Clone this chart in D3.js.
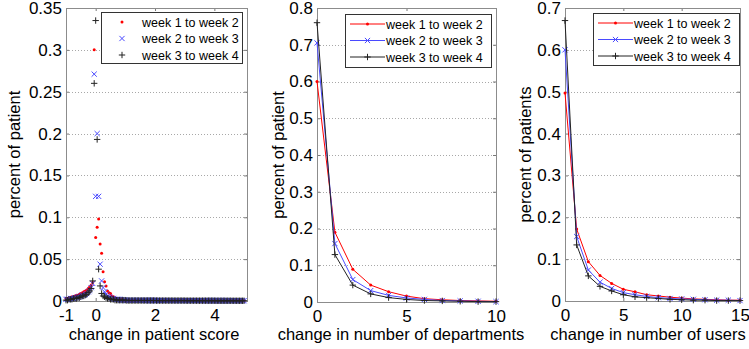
<!DOCTYPE html>
<html>
<head>
<meta charset="utf-8">
<style>
body { margin: 0; background: #fff; }
text { font-family: "Liberation Sans", Arial, sans-serif; fill: #000; }
.tick text { font-size: 17px; fill: #000; }
.tick line { stroke: #777; }
.axis-label { font-size: 16.5px; }
.legend text { font-size: 12.5px; }
.frame { fill: none; stroke: #8c8c8c; }
.grid line { stroke: #a8a8a8; stroke-dasharray: 1,2; }
</style>
<title></title>
</head>
<body>
<script src="https://cdn.jsdelivr.net/npm/d3@7"></script>
<script>

var seriesNames = ["week 1 to week 2", "week 2 to week 3", "week 3 to week 4"];
var seriesColors = ["#ff0000", "#4a4aff", "#222222"];

// panel 1: change in patient score, sampled every 0.05 from -1 to 5
var scoreX = d3.range(121).map(function(i) { return -1 + i * 0.05; });
var scoreWeek12 = [
  0.003,0.003,0.004,0.004,0.005,0.005,0.006,0.007,0.007,0.008,0.009,0.010,0.011,0.012,0.013,0.015,0.017,0.019,0.022,
  0.300,0.076,0.088,0.098,0.068,0.057,0.035,0.023,0.018,0.012,0.010,0.009,0.006,0.005,0.004,0.003,0.003,0.002,0.002,0.002,0.001,0.001,
  0.001,0.001,0.001,0.001,0.001,0.001,0.001,0.001,0.001,0.001,
  0.0008,0.0008,0.0008,0.0008,0.0008,0.0008,0.0008,0.0008,0.0008,0.0008,
  0.0007,0.0007,0.0007,0.0007,0.0007,0.0007,0.0007,0.0007,0.0007,0.0007,
  0.0006,0.0006,0.0006,0.0006,0.0006,0.0006,0.0006,0.0006,0.0006,0.0006,
  0.0005,0.0005,0.0005,0.0005,0.0005,0.0005,0.0005,0.0005,0.0005,0.0005,
  0.0004,0.0004,0.0004,0.0004,0.0004,0.0004,0.0004,0.0004,0.0004,0.0004,
  0.0004,0.0004,0.0004,0.0004,0.0004,0.0004,0.0004,0.0004,0.0004,0.0004,
  0.0003,0.0003,0.0003,0.0003,0.0003,0.0003,0.0003,0.0003,0.0003,0.0003
];
var scoreWeek23 = [
  0.002,0.002,0.002,0.003,0.003,0.003,0.004,0.004,0.005,0.005,0.006,0.007,0.007,0.008,0.009,0.011,0.013,0.016,0.021,
  0.271,0.125,0.200,0.125,0.044,0.024,0.016,0.011,0.008,0.006,0.005,0.004,0.003,0.003,0.002,0.002,0.002,0.002,0.001,0.001,0.001,0.001,
  0.0008,0.0008,0.0008,0.0008,0.0008,0.0008,0.0008,0.0008,0.0008,0.0008,
  0.0007,0.0007,0.0007,0.0007,0.0007,0.0007,0.0007,0.0007,0.0007,0.0007,
  0.0006,0.0006,0.0006,0.0006,0.0006,0.0006,0.0006,0.0006,0.0006,0.0006,
  0.0005,0.0005,0.0005,0.0005,0.0005,0.0005,0.0005,0.0005,0.0005,0.0005,
  0.0005,0.0005,0.0005,0.0005,0.0005,0.0005,0.0005,0.0005,0.0005,0.0005,
  0.0004,0.0004,0.0004,0.0004,0.0004,0.0004,0.0004,0.0004,0.0004,0.0004,
  0.0004,0.0004,0.0004,0.0004,0.0004,0.0004,0.0004,0.0004,0.0004,0.0004,
  0.0003,0.0003,0.0003,0.0003,0.0003,0.0003,0.0003,0.0003,0.0003,0.0003
];
var scoreWeek34 = [
  0.001,0.001,0.002,0.002,0.002,0.003,0.003,0.003,0.004,0.004,0.005,0.006,0.006,0.007,0.008,0.010,0.012,0.015,0.024,
  0.260,0.335,0.193,0.038,0.018,0.009,0.006,0.005,0.004,0.003,0.003,0.002,0.002,0.002,0.001,0.001,0.001,0.001,0.001,0.001,0.001,0.001,
  0.0006,0.0006,0.0006,0.0006,0.0006,0.0006,0.0006,0.0006,0.0006,0.0006,
  0.0006,0.0006,0.0006,0.0006,0.0006,0.0006,0.0006,0.0006,0.0006,0.0006,
  0.0005,0.0005,0.0005,0.0005,0.0005,0.0005,0.0005,0.0005,0.0005,0.0005,
  0.0005,0.0005,0.0005,0.0005,0.0005,0.0005,0.0005,0.0005,0.0005,0.0005,
  0.0004,0.0004,0.0004,0.0004,0.0004,0.0004,0.0004,0.0004,0.0004,0.0004,
  0.0004,0.0004,0.0004,0.0004,0.0004,0.0004,0.0004,0.0004,0.0004,0.0004,
  0.0003,0.0003,0.0003,0.0003,0.0003,0.0003,0.0003,0.0003,0.0003,0.0003,
  0.0003,0.0003,0.0003,0.0003,0.0003,0.0003,0.0003,0.0003,0.0003,0.0003
];

// panel 2: change in number of departments
var deptX = [0,1,2,3,4,5,6,7,8,9,10];
var deptWeek12 = [0.60,0.19,0.089,0.046,0.028,0.016,0.009,0.006,0.004,0.003,0.002];
var deptWeek23 = [0.705,0.159,0.061,0.031,0.018,0.011,0.007,0.004,0.003,0.002,0.001];
var deptWeek34 = [0.76,0.129,0.046,0.022,0.012,0.007,0.004,0.003,0.002,0.001,0.001];

// panel 3: change in number of users
var userX = [0,1,2,3,4,5,6,7,8,9,10,11,12,13,14,15];
var userWeek12 = [0.497,0.172,0.094,0.061,0.042,0.028,0.022,0.015,0.012,0.009,0.007,0.005,0.004,0.003,0.002,0.002];
var userWeek23 = [0.60,0.154,0.074,0.045,0.030,0.020,0.015,0.011,0.008,0.006,0.005,0.004,0.003,0.002,0.002,0.001];
var userWeek34 = [0.67,0.134,0.060,0.035,0.024,0.015,0.010,0.008,0.006,0.004,0.003,0.002,0.002,0.001,0.001,0.001];

var scoreXTicks = [-1,0,2,4];
var scoreYTicks = [0,0.05,0.1,0.15,0.2,0.25,0.3,0.35];
var deptXTicks = [0,5,10];
var deptYTicks = [0,0.1,0.2,0.3,0.4,0.5,0.6,0.7,0.8];
var userXTicks = [0,5,10,15];
var userYTicks = [0,0.1,0.2,0.3,0.4,0.5,0.6,0.7];

var width = 749, height = 349;

var svg = d3.select("body").append("svg")
    .attr("width", width)
    .attr("height", height);

// plain number labels: "0.1", "0.35", "-1"
var plain = function(d) { return String(d); };

// marker shapes
var markerPath = [
  null,                                   // red dot drawn as circle
  "M-2.6,-2.6L2.6,2.6M-2.6,2.6L2.6,-2.6", // x
  "M-3.2,0H3.2M0,-3.2V3.2"                // +
];

function drawMarker(sel, k, px, py) {
  if (k === 0) {
    sel.append("circle").attr("cx", px).attr("cy", py).attr("r", 1.5)
      .style("fill", seriesColors[0]);
  } else {
    sel.append("path").attr("d", markerPath[k])
      .attr("transform", "translate(" + px + "," + py + ")")
      .style("fill", "none").style("stroke", seriesColors[k]).style("stroke-width", 1);
  }
}

function drawPanel(p) {
  var g = svg.append("g");

  var x = d3.scaleLinear().domain(p.xDomain).range([p.left, p.right]);
  var y = d3.scaleLinear().domain(p.yDomain).range([p.bottom, p.top]);

  // horizontal dotted grid
  g.append("g").attr("class", "grid")
    .selectAll("line")
    .data(p.yTicks.filter(function(d) { return d > 0; }))
    .join("line")
    .attr("x1", p.left).attr("x2", p.right)
    .attr("y1", function(d) { return Math.round(y(d)) + 0.5; })
    .attr("y2", function(d) { return Math.round(y(d)) + 0.5; });

  // axes, ticks pointing inward
  g.append("g")
    .attr("transform", "translate(0," + p.bottom + ")")
    .call(d3.axisBottom(x).tickValues(p.xTicks).tickFormat(plain).tickSizeInner(-3).tickSizeOuter(0).tickPadding(8))
    .call(function(a) { a.select(".domain").remove(); a.attr("font-family", null).attr("font-size", null); });
  g.append("g")
    .attr("transform", "translate(0," + p.top + ")")
    .call(d3.axisTop(x).tickValues(p.xTicks).tickSizeInner(-3).tickSizeOuter(0).tickFormat(""))
    .call(function(a) { a.select(".domain").remove(); });
  g.append("g")
    .attr("transform", "translate(" + p.left + ",0)")
    .call(d3.axisLeft(y).tickValues(p.yTicks).tickFormat(plain).tickSizeInner(-3).tickSizeOuter(0).tickPadding(4))
    .call(function(a) { a.select(".domain").remove(); a.attr("font-family", null).attr("font-size", null); });
  g.append("g")
    .attr("transform", "translate(" + p.right + ",0)")
    .call(d3.axisRight(y).tickValues(p.yTicks).tickSizeInner(-3).tickSizeOuter(0).tickFormat(""))
    .call(function(a) { a.select(".domain").remove(); });

  g.append("rect").attr("class", "frame")
    .attr("x", p.left + 0.5).attr("y", p.top + 0.5)
    .attr("width", p.right - p.left).attr("height", p.bottom - p.top);

  // data
  p.series.forEach(function(vals, k) {
    var pts = vals.map(function(v, i) { return [x(p.xs[i]), y(v)]; });
    var sg = g.append("g");
    if (p.lines) {
      sg.append("path")
        .attr("d", d3.line()(pts))
        .style("fill", "none")
        .style("stroke", seriesColors[k])
        .style("stroke-width", 1);
    }
    pts.forEach(function(pt) { drawMarker(sg, k, pt[0], pt[1]); });
  });

  // axis titles
  g.append("text").attr("class", "axis-label")
    .attr("x", p.xLabelX).attr("y", 340)
    .attr("text-anchor", "middle")
    .text(p.xLabel);
  g.append("text").attr("class", "axis-label")
    .attr("transform", "translate(" + p.yLabelX + "," + ((p.top + p.bottom) / 2) + ") rotate(-90)")
    .attr("text-anchor", "middle")
    .attr("dy", "0.35em")
    .text(p.yLabel);

  // legend
  var lg = g.append("g").attr("class", "legend");
  lg.append("rect")
    .attr("x", p.legend.x + 0.5).attr("y", p.legend.y + 0.5)
    .attr("width", p.legend.w).attr("height", p.legend.h)
    .style("fill", "#fff").style("stroke", "#333");
  seriesNames.forEach(function(name, k) {
    var cy = p.legend.y + 10 + k * 16.5;
    if (p.lines) {
      lg.append("line")
        .attr("x1", p.legend.x + 5).attr("x2", p.legend.x + 40)
        .attr("y1", cy).attr("y2", cy)
        .style("stroke", seriesColors[k]).style("stroke-width", 1);
      drawMarker(lg, k, p.legend.x + 22.5, cy);
    } else {
      drawMarker(lg, k, p.legend.x + 21, cy);
    }
    lg.append("text")
      .attr("x", p.legend.x + p.legend.textDx)
      .attr("y", cy + 4.5)
      .text(name);
  });
}

drawPanel({
  left: 66, right: 247, top: 8, bottom: 301,
  xDomain: [-1, 5.1], yDomain: [0, 0.35],
  xTicks: scoreXTicks, yTicks: scoreYTicks,
  xs: scoreX, series: [scoreWeek12, scoreWeek23, scoreWeek34], lines: false,
  xLabel: "change in patient score", xLabelX: 154,
  yLabel: "percent of patient", yLabelX: 14,
  legend: { x: 101, y: 12, w: 141, h: 51, textDx: 41 }
});

drawPanel({
  left: 317, right: 496, top: 8, bottom: 302,
  xDomain: [0, 10], yDomain: [0, 0.8],
  xTicks: deptXTicks, yTicks: deptYTicks,
  xs: deptX, series: [deptWeek12, deptWeek23, deptWeek34], lines: true,
  xLabel: "change in number of departments", xLabelX: 401,
  yLabel: "percent of patient", yLabelX: 278,
  legend: { x: 345, y: 14, w: 146, h: 53, textDx: 41 }
});

drawPanel({
  left: 565, right: 740, top: 8, bottom: 301,
  xDomain: [0, 15], yDomain: [0, 0.7],
  xTicks: userXTicks, yTicks: userYTicks,
  xs: userX, series: [userWeek12, userWeek23, userWeek34], lines: true,
  xLabel: "change in number of users", xLabelX: 648,
  yLabel: "percent of patients", yLabelX: 525,
  legend: { x: 593, y: 13, w: 146, h: 52, textDx: 41 }
});

</script>
</body>
</html>
